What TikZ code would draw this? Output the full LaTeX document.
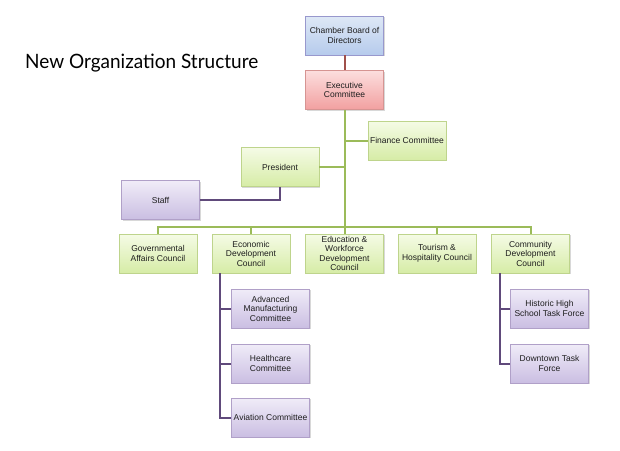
\documentclass[tikz,border=0pt]{standalone}
\usepackage{fontspec}
\setmainfont{Liberation Sans}
\newfontfamily\titlefont{Lato}
\usetikzlibrary{shadows}
\definecolor{gline}{HTML}{9BBB59}
\definecolor{rline}{HTML}{A0504B}
\definecolor{pline}{HTML}{604A7B}
\definecolor{txt}{HTML}{1E1E1E}
\tikzset{
  box/.style={draw, line width=0.6pt, minimum width=78pt, minimum height=39pt,
    inner sep=1pt, align=center, text=txt,
    font=\fontsize{8.5}{9.5}\selectfont,
    drop shadow={shadow xshift=1.2pt, shadow yshift=-1.2pt, opacity=0.25, fill=black!60}},
  bluebox/.style={box, draw=blue!35!gray!60, top color={rgb,255:red,222;green,232;blue,246}, bottom color={rgb,255:red,182;green,203;blue,236}},
  redbox/.style={box, draw={rgb,255:red,214;green,148;blue,146}, top color={rgb,255:red,252;green,222;blue,222}, bottom color={rgb,255:red,242;green,160;blue,160}},
  greenbox/.style={box, draw={rgb,255:red,190;green,212;blue,140}, top color={rgb,255:red,245;green,251;blue,230}, bottom color={rgb,255:red,214;green,236;blue,166}},
  purplebox/.style={box, draw={rgb,255:red,176;green,160;blue,200}, top color={rgb,255:red,240;green,236;blue,248}, bottom color={rgb,255:red,202;green,190;blue,226}},
  gconn/.style={draw=gline, line width=2pt},
  rconn/.style={draw=rline, line width=2pt},
  pconn/.style={draw=pline, line width=2pt},
}
\begin{document}
\begin{tikzpicture}[x=1pt,y=-1pt]
\useasboundingbox[fill=white] (0,0) rectangle (620,450);
\node[anchor=base west, inner sep=0pt, text=black] (title) at (25,68.5)
  {\resizebox{233pt}{14.5pt}{\titlefont New Organization Structure}};
% nodes
\node[bluebox] (board) at (344.5,35.5) {Chamber Board of\\Directors};
\node[redbox] (exec) at (344.5,90) {Executive\\Committee};
\node[greenbox] (fin) at (407,140.5) {Finance Committee};
\node[greenbox] (pres) at (280,167) {President};
\node[purplebox] (staff) at (160.5,200) {Staff};
\node[greenbox] (gov) at (158,253.5) {Governmental\\Affairs Council};
\node[greenbox] (econ) at (251,253.5) {Economic\\Development\\Council};
\node[greenbox] (edu) at (344.5,253.5) {Education \&\\Workforce\\Development\\Council};
\node[greenbox] (tour) at (437,253.5) {Tourism \&\\Hospitality Council};
\node[greenbox] (comm) at (530.5,253.5) {Community\\Development\\Council};
\node[purplebox] (adv) at (270.5,308.5) {Advanced\\Manufacturing\\Committee};
\node[purplebox] (health) at (270.5,363.5) {Healthcare\\Committee};
\node[purplebox] (avi) at (270.5,417.5) {Aviation Committee};
\node[purplebox] (hist) at (549.5,308.5) {Historic High\\School Task Force};
\node[purplebox] (down) at (549.5,363.5) {Downtown Task\\Force};
% connectors
\coordinate (bar) at (344.5,227);
\coordinate (ev) at (220,273);
\coordinate (cv) at (500,273);
\begin{scope}[on background layer/.try]
\end{scope}
\path[rconn] (board) -- (exec);
\path[gconn] (exec.south) -- (edu.north);
\path[gconn] (fin.west -| exec.south) -- (fin.west);
\path[gconn] (pres.east) -- (pres.east -| exec.south);
\path[gconn] (gov.north) |- (bar) -| (comm.north);
\path[gconn] (econ.north) -- (econ.north |- bar);
\path[gconn] (tour.north) -- (tour.north |- bar);
\path[pconn] (staff.east) -| (pres.south);
\path[pconn] (ev) |- (avi.west);
\path[pconn] (ev |- health.west) -- (health.west);
\path[pconn] (ev |- adv.west) -- (adv.west);
\path[pconn] (cv) |- (down.west);
\path[pconn] (cv |- hist.west) -- (hist.west);
\end{tikzpicture}
\end{document}
